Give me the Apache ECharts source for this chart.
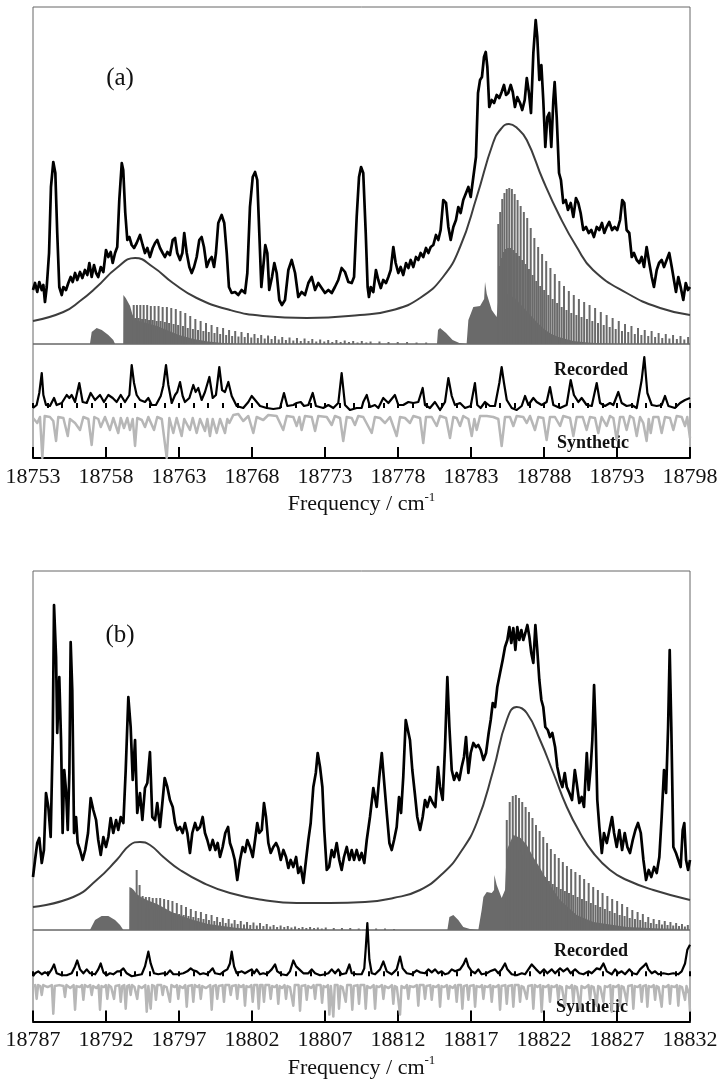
<!DOCTYPE html>
<html>
<head>
<meta charset="utf-8">
<script src="https://cdn.jsdelivr.net/npm/echarts@6.0.0/dist/echarts.min.js"></script>
<style>
  html, body { margin: 0; padding: 0; background: #fff; }
  #chart { width: 721px; height: 1080px; }
</style>
</head>
<body>
<div id="chart"></div>
<script>
// ---------- axis tick labels ----------
const tickLabelsA = [18753, 18758, 18763, 18768, 18773, 18778, 18783, 18788, 18793, 18798];
const tickLabelsB = [18787, 18792, 18797, 18802, 18807, 18812, 18817, 18822, 18827, 18832];

// ---------- panel (a): recorded spectrum (upper trace) ----------
const recordedA = [[18753.00,54],[18753.14,61],[18753.29,52],[18753.43,62],[18753.60,54],[18753.71,59],[18753.82,42],[18753.94,57],[18754.10,91],[18754.23,157],[18754.39,182],[18754.53,171],[18754.66,111],[18754.80,57],[18754.97,49],[18755.08,57],[18755.26,54],[18755.42,61],[18755.58,67],[18755.72,62],[18755.88,71],[18756.03,64],[18756.22,72],[18756.38,66],[18756.56,74],[18756.72,69],[18756.86,81],[18757.02,67],[18757.18,79],[18757.32,71],[18757.47,67],[18757.64,77],[18757.82,72],[18758.00,94],[18758.16,87],[18758.32,92],[18758.46,81],[18758.62,91],[18758.77,97],[18758.91,144],[18759.08,181],[18759.18,174],[18759.32,131],[18759.46,104],[18759.60,107],[18759.76,99],[18759.92,96],[18760.10,101],[18760.33,109],[18760.51,99],[18760.67,91],[18760.83,96],[18761.01,87],[18761.20,96],[18761.36,101],[18761.51,104],[18761.70,96],[18761.88,91],[18762.04,87],[18762.20,92],[18762.38,89],[18762.57,104],[18762.73,106],[18762.88,91],[18763.07,84],[18763.23,91],[18763.36,111],[18763.53,91],[18763.71,77],[18763.87,71],[18764.03,77],[18764.21,87],[18764.39,104],[18764.55,107],[18764.71,97],[18764.90,77],[18765.08,84],[18765.24,87],[18765.40,77],[18765.53,91],[18765.69,121],[18765.92,129],[18766.10,121],[18766.27,91],[18766.42,57],[18766.61,51],[18766.84,52],[18767.06,49],[18767.29,54],[18767.52,51],[18767.68,71],[18767.86,137],[18768.05,167],[18768.21,172],[18768.36,164],[18768.50,111],[18768.64,57],[18768.77,77],[18768.91,99],[18769.05,91],[18769.18,54],[18769.37,67],[18769.53,81],[18769.69,71],[18769.87,44],[18770.05,39],[18770.26,44],[18770.49,74],[18770.72,84],[18770.95,71],[18771.17,47],[18771.40,52],[18771.63,49],[18771.86,61],[18772.09,67],[18772.32,54],[18772.54,61],[18772.77,56],[18773.00,51],[18773.23,54],[18773.46,51],[18773.68,57],[18773.91,64],[18774.14,76],[18774.37,72],[18774.60,62],[18774.83,61],[18774.99,67],[18775.17,127],[18775.33,167],[18775.47,177],[18775.62,171],[18775.79,111],[18775.92,57],[18776.01,47],[18776.13,57],[18776.31,52],[18776.49,74],[18776.65,64],[18776.82,56],[18776.99,64],[18777.18,61],[18777.34,67],[18777.50,74],[18777.68,97],[18777.84,81],[18778.02,71],[18778.18,77],[18778.36,69],[18778.55,81],[18778.71,76],[18778.87,84],[18779.05,77],[18779.23,87],[18779.39,84],[18779.55,91],[18779.73,87],[18779.92,96],[18780.08,91],[18780.24,97],[18780.42,99],[18780.60,109],[18780.76,104],[18780.92,114],[18781.10,144],[18781.29,141],[18781.45,117],[18781.61,104],[18781.79,117],[18781.97,124],[18782.13,137],[18782.29,131],[18782.47,144],[18782.66,151],[18782.82,157],[18782.98,147],[18783.16,167],[18783.34,187],[18783.48,251],[18783.62,264],[18783.75,267],[18783.89,287],[18784.01,292],[18784.12,277],[18784.25,237],[18784.42,244],[18784.58,241],[18784.76,249],[18784.94,246],[18785.10,252],[18785.26,259],[18785.40,249],[18785.55,251],[18785.72,259],[18785.86,252],[18786.01,237],[18786.17,247],[18786.36,241],[18786.51,234],[18786.68,244],[18786.82,266],[18786.97,251],[18787.11,231],[18787.27,291],[18787.43,324],[18787.54,307],[18787.68,264],[18787.82,279],[18787.95,244],[18788.09,197],[18788.23,227],[18788.36,231],[18788.50,197],[18788.64,244],[18788.73,262],[18788.87,227],[18789.03,171],[18789.16,164],[18789.32,141],[18789.49,144],[18789.64,134],[18789.83,141],[18790.01,127],[18790.19,146],[18790.35,141],[18790.51,131],[18790.69,114],[18790.88,117],[18791.06,111],[18791.24,114],[18791.42,107],[18791.61,117],[18791.79,114],[18791.97,121],[18792.13,111],[18792.29,117],[18792.47,122],[18792.66,114],[18792.84,117],[18793.02,114],[18793.21,124],[18793.36,144],[18793.50,141],[18793.66,114],[18793.84,111],[18794.01,87],[18794.16,91],[18794.35,84],[18794.53,81],[18794.69,87],[18794.85,77],[18795.03,97],[18795.21,81],[18795.38,67],[18795.53,57],[18795.72,74],[18795.88,81],[18796.06,84],[18796.22,77],[18796.40,84],[18796.58,91],[18796.75,77],[18796.90,64],[18797.04,52],[18797.20,67],[18797.36,57],[18797.54,44],[18797.71,61],[18797.86,54],[18798.00,57]];

// band contour (smooth simulated envelope)
const envelopeA = [[18753.00,23],[18755.08,32],[18756.22,43],[18757.36,57],[18758.73,76],[18759.99,86],[18761.22,77],[18762.59,61],[18764.21,46],[18766.49,34],[18768.75,28],[18771.75,26],[18775.40,29],[18777.66,34],[18779.51,46],[18781.08,67],[18782.25,97],[18783.39,147],[18784.51,201],[18785.05,215],[18785.60,220],[18786.15,216],[18786.82,204],[18787.93,164],[18789.10,127],[18790.24,97],[18791.36,74],[18793.66,51],[18795.95,36],[18798.00,29]];

// unresolved (densely packed) parts of the stick spectrum
const stickBandA = [[18753.00,0],[18756.90,0],[18757.02,12],[18757.36,16],[18757.71,14],[18758.16,9],[18758.50,4],[18758.62,0],[18759.18,0],[18759.19,49],[18759.35,46],[18759.50,42],[18759.65,38],[18759.80,30],[18760.00,24],[18760.50,22],[18761.00,20],[18761.50,18],[18762.00,15],[18762.50,12],[18763.00,9],[18763.50,7],[18764.00,5],[18765.00,2.5],[18766.00,1],[18767.00,0],[18780.67,0],[18780.74,14],[18780.88,16],[18781.29,11],[18781.74,4],[18782.20,1],[18782.70,0],[18782.82,24],[18783.16,37],[18783.62,38],[18783.90,45],[18783.96,62],[18784.08,50],[18784.42,34],[18784.76,27],[18784.87,45],[18785.00,48],[18785.50,50],[18786.00,46],[18786.50,38],[18787.00,30],[18787.50,22],[18788.00,15],[18788.50,10],[18789.00,7],[18789.50,5],[18790.00,3],[18791.00,1.5],[18792.00,0.5],[18793.00,0],[18798.00,0]];

// resolved rotational lines, strong branch
const sticksStrongA = [[18759.90,39],[18760.12,39],[18760.35,39],[18760.58,39],[18760.82,39],[18761.07,38],[18761.33,38],[18761.60,38],[18761.88,37],[18762.17,37],[18762.47,36],[18762.78,35],[18763.10,33],[18763.43,31],[18763.77,28],[18764.12,25],[18764.48,23],[18764.85,21],[18765.23,19],[18765.62,17],[18766.02,16],[18766.43,14],[18766.85,13],[18767.28,12],[18767.72,11],[18768.17,10],[18768.63,9],[18769.10,8.5],[18769.58,8],[18770.07,7],[18770.57,6.5],[18771.08,6],[18771.60,5.5],[18772.13,5],[18772.67,4.5],[18773.22,4],[18773.78,4],[18774.35,3.5],[18774.93,3],[18775.52,3],[18776.12,2.5],[18776.73,2.5],[18777.35,2],[18777.98,2],[18778.62,2],[18779.27,1.5],[18779.93,1.5],
  [18784.87,120],[18785.00,132],[18785.14,145],[18785.29,151],[18785.45,155],[18785.62,156],[18785.80,155],[18785.99,150],[18786.19,144],[18786.40,138],[18786.62,132],[18786.85,126],[18787.09,116],[18787.34,106],[18787.60,97],[18787.87,90],[18788.15,83],[18788.44,76],[18788.74,70],[18789.05,63],[18789.37,58],[18789.70,53],[18790.04,49],[18790.39,45],[18790.75,42],[18791.12,39],[18791.50,36],[18791.89,32],[18792.29,29],[18792.70,26],[18793.12,23],[18793.55,20],[18793.99,18],[18794.44,16],[18794.90,14],[18795.37,13],[18795.85,11],[18796.34,10],[18796.84,9],[18797.35,8],[18797.87,7]];

// resolved rotational lines, weak branch
const sticksWeakA = [[18760.01,26],[18760.24,26],[18760.47,25],[18760.70,25],[18760.95,24],[18761.20,24],[18761.47,23],[18761.74,23],[18762.03,22],[18762.32,21],[18762.63,20],[18762.94,19],[18763.27,18],[18763.60,16],[18763.95,15],[18764.30,14],[18764.67,13],[18765.04,12],[18765.43,11],[18765.82,10],[18766.23,9],[18766.64,8],[18767.07,7.5],[18767.50,7],[18767.95,6.5],[18768.40,6],[18768.87,5.5],[18769.34,5],[18769.83,4.5],[18770.32,4],[18770.83,3.5],[18771.34,3],[18771.87,3],[18772.40,2.5],[18772.95,2.5],[18773.50,2],[18774.07,2],[18774.64,2],[18775.23,1.5],[18775.83,1.5],
  [18784.94,78],[18785.07,86],[18785.22,92],[18785.37,95],[18785.54,96],[18785.71,96],[18785.90,94],[18786.09,91],[18786.30,88],[18786.51,84],[18786.74,80],[18786.97,75],[18787.22,69],[18787.47,63],[18787.74,58],[18788.01,54],[18788.30,49],[18788.59,45],[18788.90,41],[18789.21,37],[18789.54,34],[18789.87,31],[18790.22,29],[18790.57,27],[18790.94,25],[18791.31,23],[18791.70,21],[18792.09,19],[18792.50,17],[18792.91,15],[18793.34,13],[18793.77,12],[18794.22,10],[18794.67,9],[18795.14,8],[18795.61,7],[18796.10,6],[18796.59,5.5],[18797.10,5],[18797.61,4.5]];

// lower comparison traces, panel (a)
const recordedLowA = [[18753.00,0],[18753.25,3],[18753.43,15],[18753.60,35],[18753.71,13],[18753.89,3],[18754.16,2],[18754.44,10],[18754.62,3],[18754.97,5],[18755.31,13],[18755.49,10],[18755.65,13],[18755.88,6],[18756.17,25],[18756.40,6],[18756.68,5],[18756.95,15],[18757.25,8],[18757.59,13],[18757.86,6],[18758.16,13],[18758.46,10],[18758.73,6],[18759.01,13],[18759.30,6],[18759.60,13],[18759.76,43],[18759.92,25],[18760.10,13],[18760.33,8],[18760.67,6],[18760.90,10],[18761.13,3],[18761.42,3],[18761.75,12],[18761.92,22],[18762.11,43],[18762.27,23],[18762.50,5],[18762.73,13],[18762.88,16],[18763.07,26],[18763.25,12],[18763.41,6],[18763.71,10],[18763.98,23],[18764.14,16],[18764.32,20],[18764.55,8],[18764.78,16],[18765.08,31],[18765.31,10],[18765.53,13],[18765.76,41],[18765.95,18],[18766.15,16],[18766.38,26],[18766.61,12],[18766.95,2],[18767.40,0],[18767.75,6],[18767.98,12],[18768.21,8],[18768.55,2],[18769.01,0],[18769.46,-1],[18769.92,0],[18770.19,15],[18770.42,2],[18770.83,3],[18771.06,5],[18771.34,6],[18771.56,2],[18771.86,3],[18772.16,15],[18772.38,2],[18772.88,0],[18773.23,3],[18773.57,0],[18773.91,5],[18774.14,35],[18774.37,3],[18774.71,-2],[18775.17,0],[18775.51,0],[18775.62,6],[18775.86,13],[18776.08,1],[18776.42,3],[18776.65,0],[18776.99,10],[18777.34,5],[18777.79,13],[18778.02,3],[18778.36,3],[18778.71,6],[18779.05,5],[18779.39,6],[18779.69,20],[18779.85,3],[18780.19,0],[18780.53,6],[18780.88,-2],[18781.22,6],[18781.45,30],[18781.68,12],[18781.90,3],[18782.25,5],[18782.59,0],[18782.98,2],[18783.27,25],[18783.43,3],[18783.66,0],[18783.96,6],[18784.30,2],[18784.64,2],[18784.94,25],[18785.10,41],[18785.26,25],[18785.45,8],[18785.79,0],[18786.13,-2],[18786.47,2],[18786.70,12],[18786.93,3],[18787.27,10],[18787.50,6],[18787.84,3],[18788.18,6],[18788.41,21],[18788.64,3],[18789.10,0],[18789.55,3],[18789.83,28],[18790.05,13],[18790.35,6],[18790.58,10],[18790.92,3],[18791.27,2],[18791.61,25],[18791.84,5],[18792.18,2],[18792.52,5],[18792.75,3],[18793.09,16],[18793.32,5],[18793.66,2],[18794.01,3],[18794.35,0],[18794.69,28],[18794.87,51],[18795.08,15],[18795.38,3],[18795.72,2],[18796.06,3],[18796.29,12],[18796.52,2],[18796.97,0],[18797.32,5],[18797.66,8],[18798.00,10]];

const syntheticA = [[18753.00,5],[18753.29,10],[18753.48,4],[18753.64,45],[18753.80,3],[18754.16,4],[18754.39,8],[18754.58,28],[18754.73,4],[18755.08,5],[18755.38,23],[18755.53,6],[18755.88,10],[18756.22,17],[18756.45,4],[18756.79,6],[18757.02,32],[18757.20,4],[18757.47,6],[18757.64,14],[18757.93,4],[18758.27,17],[18758.50,5],[18758.84,20],[18759.01,5],[18759.23,15],[18759.46,5],[18759.64,17],[18759.83,6],[18759.99,33],[18760.14,5],[18760.45,7],[18760.67,14],[18760.90,4],[18761.29,17],[18761.51,4],[18761.82,6],[18762.16,45],[18762.34,5],[18762.61,20],[18762.84,5],[18763.18,23],[18763.36,6],[18763.75,17],[18763.94,5],[18764.21,20],[18764.44,6],[18764.78,18],[18764.94,6],[18765.12,23],[18765.31,6],[18765.58,20],[18765.81,6],[18766.15,20],[18766.31,6],[18766.45,10],[18766.72,2],[18767.06,1],[18767.40,8],[18767.75,3],[18768.09,20],[18768.32,4],[18768.77,7],[18769.12,2],[18769.69,3],[18770.14,17],[18770.38,3],[18770.83,4],[18771.06,13],[18771.24,4],[18771.40,17],[18771.63,3],[18772.09,4],[18772.32,18],[18772.54,3],[18773.12,4],[18773.46,12],[18773.68,3],[18774.03,5],[18774.25,28],[18774.49,4],[18774.83,5],[18775.05,12],[18775.28,3],[18775.62,4],[18776.20,20],[18776.42,4],[18776.77,5],[18777.11,10],[18777.45,4],[18777.91,23],[18778.14,4],[18778.48,5],[18778.82,10],[18779.05,3],[18779.51,5],[18779.73,30],[18779.92,4],[18780.31,4],[18780.65,13],[18780.88,3],[18781.29,5],[18781.56,25],[18781.79,4],[18782.02,5],[18782.25,13],[18782.47,3],[18782.82,6],[18783.05,23],[18783.23,6],[18783.39,17],[18783.62,3],[18784.08,3],[18784.53,4],[18784.87,6],[18785.10,33],[18785.33,4],[18785.67,4],[18785.90,13],[18786.13,3],[18786.58,4],[18786.82,10],[18787.04,3],[18787.38,17],[18787.61,4],[18787.95,5],[18788.18,27],[18788.41,4],[18788.75,4],[18789.10,13],[18789.32,3],[18789.78,5],[18790.01,23],[18790.24,4],[18790.65,4],[18790.92,17],[18791.15,4],[18791.49,5],[18791.72,20],[18791.95,4],[18792.29,13],[18792.52,3],[18792.75,5],[18792.98,27],[18793.21,4],[18793.43,4],[18793.66,17],[18793.89,3],[18794.12,5],[18794.35,23],[18794.58,4],[18794.80,10],[18795.03,28],[18795.17,6],[18795.31,20],[18795.49,4],[18795.83,4],[18796.06,20],[18796.29,4],[18796.63,5],[18796.86,17],[18797.09,3],[18797.43,4],[18797.66,13],[18797.81,4],[18798.00,25]];

// ---------- panel (b) ----------
const recordedB = [[18787.00,53],[18787.14,70],[18787.29,87],[18787.43,92],[18787.60,67],[18787.75,80],[18787.89,137],[18788.05,123],[18788.21,93],[18788.35,190],[18788.44,325],[18788.58,273],[18788.66,197],[18788.80,253],[18788.92,190],[18789.03,97],[18789.14,160],[18789.26,140],[18789.38,100],[18789.49,157],[18789.58,288],[18789.69,240],[18789.81,97],[18789.95,113],[18790.06,87],[18790.22,80],[18790.40,70],[18790.58,80],[18790.77,97],[18790.95,132],[18791.13,120],[18791.32,110],[18791.47,90],[18791.64,75],[18791.82,93],[18792.00,83],[18792.16,93],[18792.32,112],[18792.50,97],[18792.69,110],[18792.84,100],[18793.01,113],[18793.19,107],[18793.35,160],[18793.53,233],[18793.69,203],[18793.83,150],[18793.99,190],[18794.14,117],[18794.33,137],[18794.49,110],[18794.67,142],[18794.83,147],[18795.01,178],[18795.17,113],[18795.36,110],[18795.51,127],[18795.70,103],[18795.86,127],[18796.02,152],[18796.20,143],[18796.38,130],[18796.57,123],[18796.73,107],[18796.88,100],[18797.07,103],[18797.25,97],[18797.41,107],[18797.57,97],[18797.75,77],[18797.91,97],[18798.10,107],[18798.25,100],[18798.44,103],[18798.62,113],[18798.78,97],[18798.94,90],[18799.12,80],[18799.31,90],[18799.49,80],[18799.65,87],[18799.81,73],[18799.99,83],[18800.17,97],[18800.36,103],[18800.49,87],[18800.65,80],[18800.82,70],[18800.99,50],[18801.18,70],[18801.36,83],[18801.52,78],[18801.68,90],[18801.86,83],[18802.05,73],[18802.21,90],[18802.36,107],[18802.50,97],[18802.67,100],[18802.82,127],[18802.96,113],[18803.12,87],[18803.28,77],[18803.46,83],[18803.65,87],[18803.80,82],[18803.97,70],[18804.15,80],[18804.33,73],[18804.49,62],[18804.65,70],[18804.83,63],[18805.02,73],[18805.17,57],[18805.34,63],[18805.52,47],[18805.70,70],[18805.86,90],[18806.02,107],[18806.20,143],[18806.37,157],[18806.50,177],[18806.66,163],[18806.82,143],[18806.95,100],[18807.12,60],[18807.28,63],[18807.46,80],[18807.62,73],[18807.80,87],[18807.98,70],[18808.14,60],[18808.30,73],[18808.49,83],[18808.67,70],[18808.83,80],[18808.99,70],[18809.17,80],[18809.35,70],[18809.51,77],[18809.69,67],[18809.86,90],[18810.08,113],[18810.31,142],[18810.54,123],[18810.72,153],[18810.89,177],[18811.04,150],[18811.23,117],[18811.41,87],[18811.57,80],[18811.73,90],[18811.91,103],[18812.07,133],[18812.21,117],[18812.36,153],[18812.53,210],[18812.64,208],[18812.82,190],[18812.98,160],[18813.15,137],[18813.32,113],[18813.51,100],[18813.69,113],[18813.85,130],[18814.01,123],[18814.19,133],[18814.38,127],[18814.56,123],[18814.74,163],[18814.88,143],[18815.06,130],[18815.22,183],[18815.38,253],[18815.52,203],[18815.68,160],[18815.84,150],[18816.02,157],[18816.20,150],[18816.36,163],[18816.52,173],[18816.66,193],[18816.82,157],[18816.98,177],[18817.16,187],[18817.34,183],[18817.50,185],[18817.67,180],[18817.85,170],[18818.03,177],[18818.21,197],[18818.35,210],[18818.49,227],[18818.65,223],[18818.80,243],[18818.99,257],[18819.17,270],[18819.33,283],[18819.49,290],[18819.63,303],[18819.76,287],[18819.90,302],[18820.04,280],[18820.17,303],[18820.31,290],[18820.45,300],[18820.58,290],[18820.72,297],[18820.86,305],[18821.00,293],[18821.13,277],[18821.27,267],[18821.41,305],[18821.54,280],[18821.68,250],[18821.82,230],[18821.95,223],[18822.09,203],[18822.26,200],[18822.41,193],[18822.57,197],[18822.76,183],[18822.91,163],[18823.10,150],[18823.26,143],[18823.42,157],[18823.56,143],[18823.74,137],[18823.92,130],[18824.11,160],[18824.24,147],[18824.42,127],[18824.58,133],[18824.74,123],[18824.93,177],[18825.06,140],[18825.20,163],[18825.31,190],[18825.43,245],[18825.54,200],[18825.65,130],[18825.79,103],[18825.96,77],[18826.11,97],[18826.30,87],[18826.48,100],[18826.66,113],[18826.80,97],[18826.98,83],[18827.16,100],[18827.35,80],[18827.53,97],[18827.71,83],[18827.89,77],[18828.08,90],[18828.26,100],[18828.44,107],[18828.63,97],[18828.81,70],[18828.99,50],[18829.17,60],[18829.35,53],[18829.54,63],[18829.72,57],[18829.90,73],[18830.06,113],[18830.22,160],[18830.36,137],[18830.50,203],[18830.61,280],[18830.72,203],[18830.86,83],[18831.04,77],[18831.20,70],[18831.36,63],[18831.50,100],[18831.61,107],[18831.73,70],[18831.87,60],[18832.00,70]];

const envelopeB = [[18787.00,23],[18789.76,33],[18791.36,50],[18792.73,70],[18793.64,85],[18794.33,88],[18795.01,85],[18795.93,73],[18797.07,60],[18798.67,47],[18800.49,37],[18802.77,30],[18805.06,27],[18807.34,27],[18809.74,28],[18811.68,32],[18813.51,40],[18815.10,57],[18816.25,77],[18817.39,107],[18818.53,160],[18819.45,210],[18820.13,223],[18820.82,217],[18821.73,190],[18822.64,157],[18823.56,123],[18824.47,97],[18825.38,77],[18826.52,60],[18827.67,50],[18829.49,40],[18832.00,30]];

const stickBandB = [[18787.00,0],[18790.90,0],[18791.25,10],[18791.70,14],[18792.16,14],[18792.62,10],[18792.96,5],[18793.19,0],[18793.59,0],[18793.60,43],[18793.75,42],[18793.90,40],[18794.10,36],[18794.40,33],[18794.80,30],[18795.50,26],[18796.00,22],[18796.50,18],[18797.00,15],[18798.00,10],[18799.00,6],[18800.00,4],[18801.00,2],[18802.00,1],[18803.00,0],[18815.38,0],[18815.52,13],[18815.79,15],[18816.13,10],[18816.47,3],[18816.93,1],[18817.50,0],[18817.62,0],[18817.73,20],[18817.85,33],[18818.08,38],[18818.42,37],[18818.58,40],[18818.60,55],[18818.76,45],[18819.10,32],[18819.33,40],[18819.45,80],[18819.90,95],[18820.40,92],[18820.82,85],[18821.30,72],[18821.73,62],[18822.19,50],[18822.64,40],[18823.10,30],[18824.24,15],[18825.38,8],[18827.67,3],[18829.95,1.5],[18832.00,1]];

const sticksStrongB = [[18794.10,60],[18794.30,45],[18794.51,34],[18794.73,33],[18794.96,33],[18795.20,32],[18795.45,32],[18795.71,32],[18795.98,31],[18796.26,30],[18796.55,29],[18796.85,27],[18797.16,25],[18797.48,23],[18797.81,21],[18798.15,19],[18798.50,18],[18798.86,16],[18799.23,15],[18799.61,13],[18800.00,12],[18800.40,11],[18800.81,10],[18801.23,9],[18801.66,8],[18802.10,7.5],[18802.55,7],[18803.01,6],[18803.48,5],[18803.96,4.5],[18804.45,4],[18804.95,3.5],[18805.46,3],[18805.98,3],[18806.51,2.5],[18807.05,2.5],[18807.60,2],[18808.16,2],[18808.73,2],[18809.31,1.5],[18809.90,1.5],[18810.50,1.5],[18811.11,1.5],[18811.73,1],
  [18819.45,110],[18819.65,128],[18819.86,134],[18820.07,135],[18820.29,132],[18820.51,128],[18820.74,123],[18820.97,118],[18821.21,112],[18821.45,105],[18821.70,99],[18821.95,93],[18822.21,87],[18822.47,81],[18822.74,76],[18823.01,72],[18823.29,68],[18823.57,64],[18823.86,61],[18824.15,58],[18824.45,55],[18824.75,51],[18825.06,47],[18825.37,43],[18825.69,40],[18826.01,37],[18826.34,34],[18826.67,31],[18827.01,29],[18827.35,26],[18827.70,23],[18828.05,20],[18828.41,18],[18828.77,16],[18829.14,13],[18829.51,11],[18829.89,10],[18830.27,9],[18830.66,8],[18831.05,7],[18831.45,6],[18831.85,5]];

const sticksWeakB = [[18794.62,22],[18794.85,21],[18795.08,21],[18795.33,20],[18795.58,20],[18795.85,19],[18796.12,19],[18796.41,18],[18796.70,17],[18797.01,16],[18797.32,15],[18797.65,14],[18797.98,13],[18798.33,12],[18798.68,11],[18799.05,10],[18799.42,9],[18799.81,8],[18800.20,7],[18800.61,6.5],[18801.02,6],[18801.45,5.5],[18801.88,5],[18802.33,4.5],[18802.78,4],[18803.25,3.5],[18803.72,3],[18804.21,3],[18804.70,2.5],[18805.21,2],[18805.72,2],[18806.25,2],[18806.78,1.5],
  [18819.55,72],[18819.75,78],[18819.96,81],[18820.18,80],[18820.40,78],[18820.62,75],[18820.85,72],[18821.09,69],[18821.33,65],[18821.57,61],[18821.82,57],[18822.08,53],[18822.34,49],[18822.60,46],[18822.87,43],[18823.15,41],[18823.43,39],[18823.71,37],[18824.00,35],[18824.30,33],[18824.60,31],[18824.90,29],[18825.21,27],[18825.53,25],[18825.85,23],[18826.17,21],[18826.50,19],[18826.84,17],[18827.18,15],[18827.52,14],[18827.87,12],[18828.23,11],[18828.59,10],[18828.95,8],[18829.32,7],[18829.70,6],[18830.08,5.5],[18830.46,5],[18830.85,4.5],[18831.25,4],[18831.65,3.5]];

const recordedLowB = [[18787.00,0],[18787.14,3],[18787.36,5],[18787.60,2],[18787.82,4],[18788.05,2],[18788.28,7],[18788.44,12],[18788.62,3],[18788.97,1],[18789.31,1],[18789.65,3],[18789.88,10],[18790.03,16],[18790.22,7],[18790.45,3],[18790.68,7],[18790.90,3],[18791.25,2],[18791.47,7],[18791.64,13],[18791.82,4],[18792.05,1],[18792.27,3],[18792.50,2],[18792.77,5],[18792.96,5],[18793.19,8],[18793.42,3],[18793.76,0],[18794.10,1],[18794.45,2],[18794.67,10],[18794.90,25],[18795.06,13],[18795.29,3],[18795.58,2],[18795.93,3],[18796.16,2],[18796.38,6],[18796.61,2],[18796.95,2],[18797.30,3],[18797.57,5],[18797.80,8],[18797.98,6],[18798.21,5],[18798.44,2],[18798.67,3],[18798.90,2],[18799.12,5],[18799.31,8],[18799.47,3],[18799.81,2],[18800.08,5],[18800.31,7],[18800.49,13],[18800.61,25],[18800.77,10],[18800.95,3],[18801.30,5],[18801.52,3],[18801.75,5],[18801.98,7],[18802.14,3],[18802.32,7],[18802.55,2],[18802.77,3],[18803.01,2],[18803.35,7],[18803.58,12],[18803.73,5],[18804.04,2],[18804.38,1],[18804.60,5],[18804.83,16],[18805.02,10],[18805.24,7],[18805.52,3],[18805.86,3],[18806.09,7],[18806.32,3],[18806.66,1],[18807.00,2],[18807.23,3],[18807.46,7],[18807.69,3],[18807.91,7],[18808.14,2],[18808.44,3],[18808.67,12],[18808.83,3],[18809.17,2],[18809.51,2],[18809.69,8],[18809.79,28],[18809.90,54],[18810.04,17],[18810.20,3],[18810.43,2],[18810.77,7],[18811.00,15],[18811.23,5],[18811.57,2],[18811.91,7],[18812.14,20],[18812.32,8],[18812.60,3],[18812.94,2],[18813.28,6],[18813.51,4],[18813.85,3],[18814.08,7],[18814.31,4],[18814.54,7],[18814.76,3],[18814.99,5],[18815.22,2],[18815.45,3],[18815.68,7],[18815.91,5],[18816.25,7],[18816.48,12],[18816.66,18],[18816.82,10],[18817.05,5],[18817.28,3],[18817.50,7],[18817.73,2],[18818.08,3],[18818.30,5],[18818.65,7],[18818.87,3],[18819.10,7],[18819.33,13],[18819.49,7],[18819.79,2],[18820.13,1],[18820.48,3],[18820.70,2],[18820.93,7],[18821.16,12],[18821.27,13],[18821.46,7],[18821.73,3],[18822.00,7],[18822.23,3],[18822.53,7],[18822.76,3],[18823.10,8],[18823.33,5],[18823.60,8],[18823.83,3],[18824.13,7],[18824.42,3],[18824.70,2],[18825.04,5],[18825.27,3],[18825.61,8],[18825.84,7],[18826.07,13],[18826.30,5],[18826.64,2],[18826.87,7],[18827.09,3],[18827.32,5],[18827.55,2],[18827.85,7],[18828.08,3],[18828.35,2],[18828.58,7],[18828.80,10],[18828.99,13],[18829.15,7],[18829.38,3],[18829.61,5],[18829.83,2],[18830.18,3],[18830.52,2],[18830.86,3],[18831.20,2],[18831.43,5],[18831.66,13],[18831.82,27],[18832.00,32]];

const syntheticB = [[18787.00,4],[18787.15,3],[18787.25,17],[18787.35,3],[18787.50,4],[18787.60,13],[18787.70,3],[18788.00,5],[18788.29,3],[18788.39,32],[18788.49,4],[18788.80,3],[18789.09,4],[18789.19,15],[18789.29,3],[18789.55,6],[18789.78,3],[18789.88,28],[18789.98,4],[18790.20,5],[18790.35,3],[18790.45,18],[18790.55,3],[18790.75,5],[18790.92,3],[18791.02,13],[18791.12,4],[18791.35,6],[18791.49,3],[18791.59,28],[18791.69,4],[18791.85,5],[18791.99,3],[18792.09,17],[18792.19,3],[18792.35,5],[18792.45,3],[18792.55,17],[18792.65,4],[18792.91,3],[18793.01,20],[18793.11,4],[18793.25,3],[18793.35,27],[18793.45,4],[18793.59,3],[18793.69,13],[18793.79,3],[18793.95,5],[18794.04,3],[18794.14,17],[18794.24,4],[18794.45,6],[18794.69,3],[18794.79,30],[18794.90,4],[18794.96,3],[18795.06,27],[18795.16,3],[18795.32,4],[18795.42,18],[18795.52,3],[18795.65,5],[18795.78,3],[18795.88,13],[18795.98,4],[18796.15,5],[18796.28,3],[18796.38,20],[18796.48,3],[18796.70,5],[18796.85,3],[18796.95,17],[18797.05,4],[18797.25,6],[18797.43,3],[18797.53,25],[18797.63,4],[18797.75,5],[18797.88,3],[18797.98,20],[18798.08,3],[18798.25,5],[18798.39,3],[18798.49,17],[18798.59,4],[18798.85,6],[18799.14,3],[18799.24,28],[18799.34,4],[18799.45,3],[18799.52,3],[18799.62,17],[18799.72,4],[18799.85,5],[18799.98,3],[18800.08,20],[18800.18,3],[18800.30,5],[18800.44,3],[18800.54,13],[18800.64,4],[18800.75,5],[18800.89,3],[18800.99,17],[18801.09,3],[18801.25,5],[18801.42,3],[18801.52,24],[18801.62,4],[18801.80,5],[18801.95,3],[18802.05,20],[18802.15,3],[18802.25,4],[18802.36,3],[18802.46,27],[18802.56,3],[18802.64,4],[18802.72,3],[18802.82,20],[18802.92,3],[18803.05,5],[18803.18,3],[18803.28,17],[18803.38,4],[18803.55,5],[18803.70,3],[18803.80,22],[18803.90,4],[18804.05,6],[18804.23,3],[18804.33,17],[18804.43,4],[18804.60,5],[18804.73,3],[18804.83,24],[18804.93,3],[18805.05,4],[18805.19,3],[18805.29,29],[18805.39,4],[18805.52,5],[18805.65,3],[18805.75,18],[18805.85,4],[18806.05,6],[18806.22,3],[18806.32,17],[18806.42,3],[18806.55,5],[18806.70,3],[18806.80,21],[18806.90,4],[18807.05,5],[18807.20,3],[18807.30,33],[18807.40,4],[18807.47,3],[18807.57,35],[18807.67,3],[18807.86,3],[18807.96,27],[18808.06,4],[18808.20,5],[18808.32,3],[18808.42,20],[18808.52,3],[18808.65,5],[18808.77,3],[18808.87,28],[18808.97,4],[18809.10,5],[18809.23,3],[18809.33,22],[18809.43,3],[18809.55,4],[18809.69,3],[18809.79,27],[18809.89,4],[18810.10,6],[18810.33,3],[18810.43,27],[18810.53,4],[18810.70,5],[18810.90,3],[18811.00,17],[18811.10,4],[18811.35,6],[18811.58,3],[18811.68,22],[18811.78,4],[18811.92,5],[18812.04,3],[18812.14,33],[18812.24,4],[18812.45,6],[18812.61,3],[18812.71,17],[18812.81,4],[18813.05,5],[18813.29,3],[18813.39,24],[18813.49,3],[18813.62,5],[18813.75,3],[18813.85,17],[18813.95,4],[18814.08,5],[18814.21,3],[18814.31,18],[18814.41,4],[18814.60,5],[18814.78,3],[18814.88,25],[18814.98,4],[18815.15,5],[18815.35,3],[18815.45,17],[18815.55,4],[18815.75,6],[18815.92,3],[18816.02,20],[18816.12,3],[18816.22,4],[18816.31,3],[18816.41,27],[18816.51,4],[18816.62,5],[18816.72,3],[18816.82,18],[18816.92,4],[18817.05,5],[18817.18,3],[18817.28,25],[18817.38,4],[18817.60,5],[18817.75,3],[18817.85,17],[18817.95,4],[18818.15,5],[18818.32,3],[18818.42,20],[18818.52,4],[18818.70,5],[18818.89,3],[18818.99,28],[18819.09,4],[18819.22,5],[18819.35,3],[18819.45,22],[18819.55,4],[18819.68,5],[18819.80,3],[18819.90,25],[18820.00,3],[18820.13,5],[18820.26,3],[18820.36,20],[18820.46,4],[18820.60,5],[18820.72,3],[18820.82,17],[18820.92,4],[18821.05,5],[18821.17,3],[18821.27,27],[18821.37,3],[18821.55,5],[18821.74,3],[18821.84,30],[18821.94,4],[18822.12,5],[18822.31,3],[18822.41,20],[18822.51,4],[18822.70,5],[18822.88,3],[18822.98,18],[18823.08,4],[18823.22,5],[18823.34,3],[18823.44,24],[18823.54,4],[18823.75,6],[18823.91,3],[18824.01,20],[18824.11,4],[18824.25,5],[18824.37,3],[18824.47,27],[18824.57,4],[18824.80,6],[18825.05,3],[18825.15,18],[18825.25,4],[18825.40,5],[18825.51,3],[18825.61,24],[18825.71,4],[18825.85,5],[18825.97,3],[18826.07,20],[18826.17,4],[18826.35,5],[18826.54,3],[18826.64,30],[18826.74,4],[18826.92,5],[18827.11,3],[18827.21,24],[18827.31,4],[18827.45,5],[18827.57,3],[18827.67,20],[18827.77,4],[18827.90,5],[18828.02,3],[18828.12,27],[18828.22,4],[18828.42,5],[18828.59,3],[18828.69,20],[18828.79,4],[18828.90,5],[18828.98,3],[18829.08,25],[18829.18,4],[18829.35,5],[18829.51,3],[18829.61,18],[18829.71,4],[18829.85,5],[18829.96,3],[18830.06,25],[18830.16,4],[18830.35,5],[18830.53,3],[18830.63,22],[18830.73,4],[18830.95,5],[18831.10,3],[18831.20,24],[18831.30,4],[18831.45,5],[18831.56,3],[18831.66,18],[18831.76,4],[18831.85,3],[18831.93,12],[18832.00,30]];

// ---------- chart ----------
const SERIF = '"Liberation Serif", "Times New Roman", serif';
const FRAME = '#666';
const STICK = '#6a6a6a';

function integerTicks(lo, hi) {
  const out = [];
  for (let v = lo; v <= hi; v++) out.push(v);
  return out;
}

function panelAxes(gridUpper, gridLower, lo, hi, labels) {
  return [
    { gridIndex: gridUpper, type: 'value', min: lo, max: hi, show: false },
    {
      gridIndex: gridLower, type: 'value', min: lo, max: hi, position: 'bottom',
      axisLine: { show: true, onZero: false, lineStyle: { color: '#000', width: 2 } },
      axisTick: { show: true, inside: true, length: 11, customValues: labels,
                  lineStyle: { color: '#000', width: 2 } },
      axisLabel: { show: true, customValues: labels, margin: 8,
                   formatter: v => String(Math.round(v)),
                   fontFamily: SERIF, fontSize: 22, color: '#111' },
      splitLine: { show: false },
      name: 'Frequency / cm{sup|-1}', nameLocation: 'middle', nameGap: 33,
      nameTextStyle: { fontFamily: SERIF, fontSize: 22, color: '#111',
        rich: { sup: { fontFamily: SERIF, fontSize: 13, color: '#111', padding: [0, 0, 14, 0] } } }
    },
    {
      gridIndex: gridLower, type: 'value', min: lo, max: hi, position: 'bottom',
      axisLine: { show: false },
      axisTick: { show: true, inside: true, length: 5, customValues: integerTicks(lo, hi),
                  lineStyle: { color: '#000', width: 2 } },
      axisLabel: { show: false }, splitLine: { show: false }
    }
  ];
}

function gridBox(top, height) {
  return { left: 33, right: 31, top: top, height: height, show: true,
           borderColor: FRAME, borderWidth: 1, backgroundColor: 'transparent' };
}

function lineSeries(x, y, data, color, width, extra) {
  return Object.assign({ type: 'line', xAxisIndex: x, yAxisIndex: y, data: data,
    symbol: 'none', lineStyle: { color: color, width: width, join: 'round' },
    animation: false, silent: true }, extra || {});
}

function stickSeries(x, y, data) {
  return { type: 'bar', xAxisIndex: x, yAxisIndex: y, data: data, barWidth: 2,
           itemStyle: { color: STICK }, animation: false, silent: true, z: 1 };
}

function bandSeries(x, y, data) {
  return { type: 'line', xAxisIndex: x, yAxisIndex: y, data: data, symbol: 'none',
           lineStyle: { width: 0 }, areaStyle: { color: STICK, opacity: 1 },
           animation: false, silent: true, z: 1 };
}

function label(text, x, y, size, weight) {
  return { type: 'text', x: x, y: y, silent: true,
    style: { text: text, fontFamily: SERIF, fontSize: size, fontWeight: weight || 'normal',
             fill: '#111', align: 'center', verticalAlign: 'middle' } };
}

const chart = echarts.init(document.getElementById('chart'), null, { renderer: 'canvas' });

chart.setOption({
  backgroundColor: '#fff',
  animation: false,
  grid: [gridBox(7, 337), gridBox(344, 114), gridBox(571, 359), gridBox(930, 93)],
  xAxis: [].concat(
    panelAxes(0, 1, 18753, 18798, tickLabelsA),
    panelAxes(2, 3, 18787, 18832, tickLabelsB)
  ),
  yAxis: [
    { gridIndex: 0, type: 'value', min: 0, max: 337, show: false },
    { gridIndex: 1, type: 'value', min: -50, max: 64, show: false },
    { gridIndex: 1, type: 'value', min: -69, max: 45, inverse: true, show: false },
    { gridIndex: 2, type: 'value', min: 0, max: 359, show: false },
    { gridIndex: 3, type: 'value', min: -46, max: 47, show: false },
    { gridIndex: 3, type: 'value', min: -53, max: 40, inverse: true, show: false }
  ],
  series: [
    // panel (a) upper
    bandSeries(0, 0, stickBandA),
    stickSeries(0, 0, sticksStrongA.concat(sticksWeakA)),
    lineSeries(0, 0, envelopeA, '#3d3d3d', 2, { smooth: 0.5, z: 3 }),
    lineSeries(0, 0, recordedA, '#000', 2.7, { z: 4 }),
    // panel (a) lower
    lineSeries(1, 2, syntheticA, '#b7b7b7', 2.5, { z: 3 }),
    lineSeries(1, 1, recordedLowA, '#000', 2.2, { z: 4 }),
    // panel (b) upper
    bandSeries(3, 3, stickBandB),
    stickSeries(3, 3, sticksStrongB.concat(sticksWeakB)),
    lineSeries(3, 3, envelopeB, '#3d3d3d', 2, { smooth: 0.5, z: 3 }),
    lineSeries(3, 3, recordedB, '#000', 2.7, { z: 4 }),
    // panel (b) lower
    lineSeries(4, 5, syntheticB, '#b7b7b7', 2.5, { z: 3 }),
    lineSeries(4, 4, recordedLowB, '#000', 2.2, { z: 4, clip: false })
  ],
  graphic: [
    label('(a)', 120, 78, 25),
    label('(b)', 120, 635, 25),
    label('Recorded', 591, 370, 18, 'bold'),
    label('Synthetic', 593, 443, 18, 'bold'),
    label('Recorded', 591, 951, 18, 'bold'),
    label('Synthetic', 592, 1007, 18, 'bold')
  ]
});
</script>
</body>
</html>
